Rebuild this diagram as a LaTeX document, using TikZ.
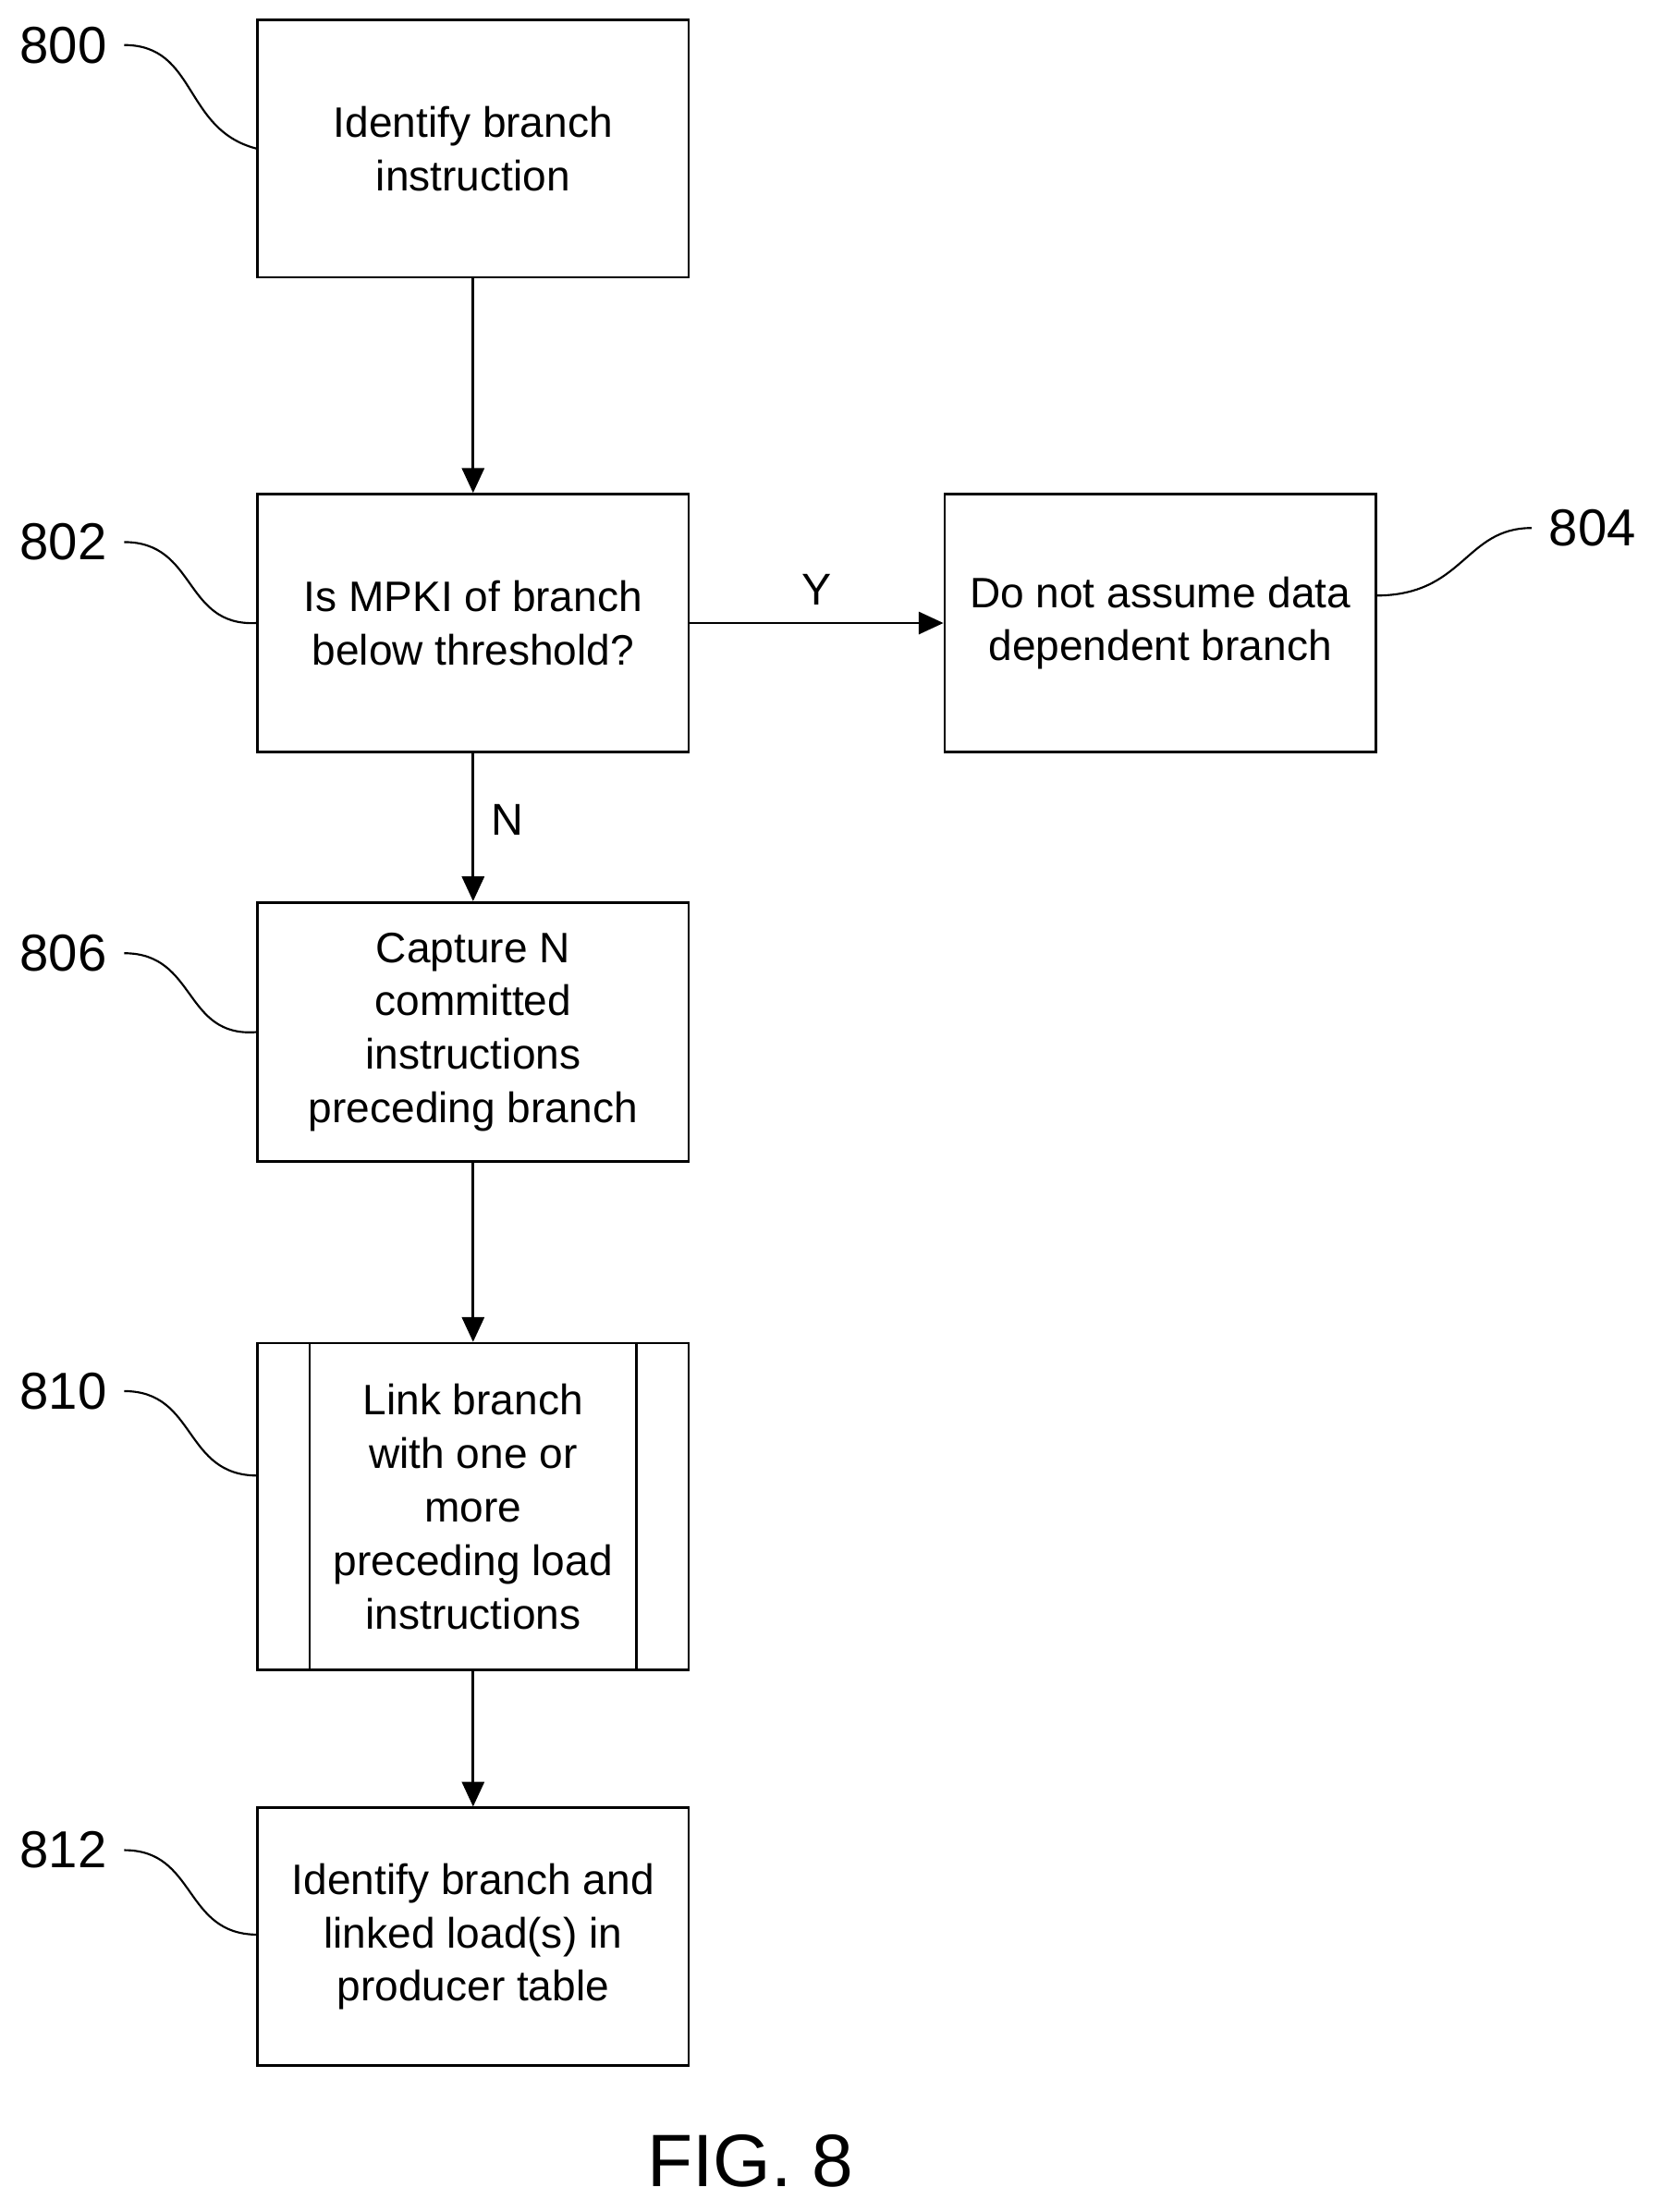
\documentclass[tikz,border=0pt]{standalone}
\usepackage{fontspec}
\setmainfont{Liberation Sans}
\usetikzlibrary{arrows.meta}
\begin{document}
\begin{tikzpicture}[x=0.01cm,y=-0.01cm,
  box/.style={draw,line width=0.5pt,minimum width=3.06cm,align=center,font=\fontsize{8.6}{10.8}\selectfont},
  arr/.style={-{Triangle[length=5pt,width=4.5pt]},line width=0.5pt},
  lead/.style={line width=0.4pt},
  num/.style={font=\fontsize{10.5}{12}\selectfont}]
\useasboundingbox (0,0) rectangle (1180,1571);
\node[box,minimum height=1.83cm] (b800) at (336,105.5) {Identify branch\\instruction};
\node[box,minimum height=1.83cm] (b802) at (336,442.5) {Is MPKI of branch\\below threshold?};
\node[box,minimum height=1.83cm] (b804) at (824,442.5) {Do not assume data\\dependent branch};
\node[box,minimum height=1.84cm] (b806) at (336,733) {Capture N\\committed\\instructions\\preceding branch};
\node[box,minimum height=2.32cm] (b810) at (336,1070) {Link branch\\with one or\\more\\preceding load\\instructions};
\draw[line width=0.5pt] (220,954) -- (220,1186) (452,954) -- (452,1186);
\node[box,minimum height=1.83cm] (b812) at (336,1375.5) {Identify branch and\\linked load(s) in\\producer table};
\draw[arr] (b800) -- (b802);
\draw[arr] (b802) -- node[right,pos=0.45,font=\fontsize{9}{10}\selectfont]{N} (b806);
\draw[arr] (b802.east) ++(0,0) -- node[above,font=\fontsize{9}{10}\selectfont]{Y} (b804.west);
\draw[arr] (b806) -- (b810);
\draw[arr] (b810) -- (b812);
\node[num] (l800) at (45,32) {800};
\node[num] (l802) at (45,385) {802};
\node[num] (l806) at (45,677) {806};
\node[num] (l810) at (45,988) {810};
\node[num] (l812) at (45,1314) {812};
\node[num] (l804) at (1131,375) {804};
\draw[lead] (l800.east) .. controls (140,32) and (130,92) .. (b800.west);
\draw[lead] (l802.east) .. controls (140,385) and (130,445) .. (b802.west);
\draw[lead] (l806.east) .. controls (140,677) and (130,737) .. (b806.west);
\draw[lead] (l810.east) .. controls (140,988) and (130,1048) .. (183,1048);
\draw[lead] (l812.east) .. controls (140,1314) and (130,1374) .. (183,1374);
\draw[lead] (977,423) .. controls (1040,423) and (1040,375) .. (l804.west);
\node[font=\fontsize{15}{17}\selectfont] (fig) at (533,1535) {FIG. 8};
\end{tikzpicture}
\end{document}
